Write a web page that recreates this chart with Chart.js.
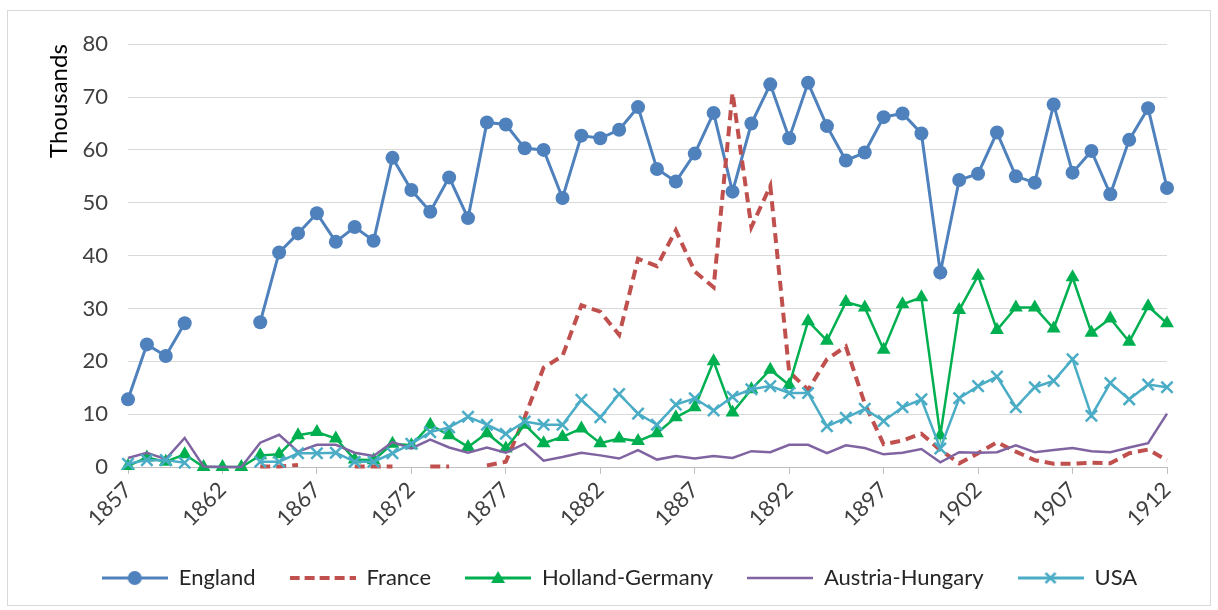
<!DOCTYPE html>
<html>
<head>
<meta charset="utf-8">
<script src="https://cdn.jsdelivr.net/npm/chart.js@4.4.1/dist/chart.umd.min.js"></script>
<style>
  body { margin: 0; background: #fff; }
  #box { position: absolute; left: 7px; top: 10px; width: 1202px; height: 594px; border: 1px solid #d9d9d9; }
  canvas { display: block; }
</style>
</head>
<body>
<div id="box"><canvas id="chart" width="1202" height="594"></canvas></div>
<script>
// years on the category axis
const years = [
  '1857', '1858', '1859', '1860', '1861', '1862', '1863', '1864', '1865', '1866',
  '1867', '1868', '1869', '1870', '1871', '1872', '1873', '1874', '1875', '1876',
  '1877', '1878', '1879', '1880', '1881', '1882', '1883', '1884', '1885', '1886',
  '1887', '1888', '1889', '1890', '1891', '1892', '1893', '1894', '1895', '1896',
  '1897', '1898', '1899', '1900', '1901', '1902', '1903', '1904', '1905', '1906',
  '1907', '1908', '1909', '1910', '1911', '1912'
];

// values in thousands, null = no data
const england = [
  12.8, 23.2, 21.0, 27.2, null, null, null, 27.4, 40.6, 44.2,
  48.0, 42.6, 45.4, 42.8, 58.5, 52.4, 48.3, 54.8, 47.1, 65.2,
  64.8, 60.3, 60.0, 50.9, 62.7, 62.2, 63.8, 68.1, 56.4, 54.0,
  59.3, 67.0, 52.1, 65.0, 72.4, 62.2, 72.7, 64.5, 58.0, 59.5,
  66.2, 66.9, 63.1, 36.8, 54.3, 55.5, 63.3, 55.0, 53.8, 68.6,
  55.7, 59.8, 51.6, 61.9, 67.9, 52.8
];
const france = [
  null, null, null, null, null, null, null, 0.1, 0.1, 0.4,
  null, null, 0.1, 0.1, 0.1, null, 0.1, 0.1, null, 0.3,
  1.0, 9.4, 18.8, 21.0, 30.6, 29.4, 25.0, 39.4, 38.0, 44.8,
  37.0, 34.0, 70.8, 45.4, 53.2, 18.0, 14.6, 20.4, 22.8, 12.0,
  4.3, 5.0, 6.3, 3.2, 0.7, 2.6, 4.7, 2.9, 1.3, 0.6,
  0.6, 0.8, 0.7, 2.6, 3.3, 1.3
];
const hollandGermany = [
  0.2, 1.8, 1.0, 2.4, 0, 0, 0, 2.2, 2.4, 6.0,
  6.6, 5.4, 1.4, 1.3, 4.4, 4.1, 8.0, 6.0, 3.8, 6.4,
  3.5, 8.0, 4.5, 5.7, 7.3, 4.5, 5.4, 4.9, 6.4, 9.4,
  11.3, 20.0, 10.3, 14.7, 18.4, 15.5, 27.6, 23.9, 31.2, 30.2,
  22.2, 30.8, 32.1, 6.0, 29.7, 36.2, 25.9, 30.2, 30.2, 26.2,
  35.9, 25.4, 28.1, 23.7, 30.4, 27.2
];
const austriaHungary = [
  1.7, 2.7, 1.5, 5.5, 0.1, 0, 0, 4.6, 6.1, 2.9,
  4.2, 4.2, 2.7, 2.1, 4.7, 3.5, 5.2, 3.7, 2.7, 3.7,
  2.7, 4.4, 1.2, 1.9, 2.7, 2.2, 1.6, 3.2, 1.4, 2.1,
  1.6, 2.1, 1.7, 3.0, 2.8, 4.2, 4.2, 2.6, 4.1, 3.6,
  2.4, 2.7, 3.4, 0.9, 2.8, 2.7, 2.8, 4.1, 2.8, 3.2,
  3.6, 3.0, 2.8, 3.7, 4.5, 10.1
];
const usa = [
  0.6, 1.3, 1.3, 0.8, null, null, null, 1.0, 1.0, 2.6,
  2.6, 2.7, 1.0, 1.0, 2.6, 4.4, 6.6, 7.5, 9.5, 8.0,
  6.3, 8.6, 8.0, 8.0, 12.7, 9.4, 13.8, 10.1, 8.0, 11.8,
  13.0, 10.7, 13.3, 14.7, 15.3, 14.0, 14.0, 7.7, 9.3, 11.0,
  8.7, 11.3, 12.8, 3.5, 13.0, 15.3, 17.1, 11.3, 15.1, 16.3,
  20.4, 9.7, 15.9, 12.8, 15.6, 15.1
];
const yTicks = [0, 10, 20, 30, 40, 50, 60, 70, 80];

const FONT = 'Lato';

// little line + marker pictures for the legend
function legendIcon(color, width, dash, marker) {
  const c = document.createElement('canvas');
  c.width = 66;
  c.height = 20;
  const g = c.getContext('2d');
  g.strokeStyle = color;
  g.fillStyle = color;
  g.lineWidth = width;
  g.setLineDash(dash);
  g.beginPath();
  g.moveTo(0, 10);
  g.lineTo(66, 10);
  g.stroke();
  g.setLineDash([]);
  if (marker === 'circle') {
    g.beginPath();
    g.arc(33, 10, 7, 0, Math.PI * 2);
    g.fill();
  } else if (marker === 'triangle') {
    g.beginPath();
    g.moveTo(33, 3);
    g.lineTo(40, 15);
    g.lineTo(26, 15);
    g.closePath();
    g.fill();
  } else if (marker === 'cross') {
    g.lineWidth = 2.5;
    g.beginPath();
    g.moveTo(28, 5); g.lineTo(38, 15);
    g.moveTo(38, 5); g.lineTo(28, 15);
    g.stroke();
  }
  return c;
}

const icons = [
  legendIcon('#4F81BD', 3, [], 'circle'),
  legendIcon('#C0504D', 4, [10, 5], null),
  legendIcon('#00B050', 3, [], 'triangle'),
  legendIcon('#8064A2', 2.5, [], null),
  legendIcon('#4BACC6', 3, [], 'cross')
];

// move the legend a bit to the right, like the original
const legendShift = {
  id: 'legendShift',
  afterLayout(chart) {
    chart.legend.left += 32;
    chart.legend.right += 32;
  }
};

new Chart(document.getElementById('chart'), {
  type: 'line',
  data: {
    labels: years,
    datasets: [
      {
        label: 'England', data: england, order: 5,
        borderColor: '#4F81BD', backgroundColor: '#4F81BD', borderWidth: 3,
        pointStyle: 'circle', pointRadius: 7, pointBorderWidth: 0
      },
      {
        label: 'France', data: france, order: 4,
        borderColor: '#C0504D', backgroundColor: '#C0504D', borderWidth: 4,
        borderDash: [10, 6], pointRadius: 0
      },
      {
        label: 'Holland-Germany', data: hollandGermany, order: 3,
        borderColor: '#00B050', backgroundColor: '#00B050', borderWidth: 2.5,
        pointStyle: 'triangle', pointRadius: 8, pointBorderWidth: 0
      },
      {
        label: 'Austria-Hungary', data: austriaHungary, order: 2,
        borderColor: '#8064A2', backgroundColor: '#8064A2', borderWidth: 2.5,
        pointRadius: 0
      },
      {
        label: 'USA', data: usa, order: 1,
        borderColor: '#4BACC6', backgroundColor: '#4BACC6', borderWidth: 2.5,
        pointStyle: 'crossRot', pointRadius: 8, pointBorderWidth: 2.5
      }
    ]
  },
  options: {
    responsive: false,
    animation: false,
    events: [],
    spanGaps: false,
    clip: false,
    layout: { padding: { left: 0, right: 43, top: 28, bottom: 6 } },
    elements: { line: { tension: 0 } },
    plugins: {
      tooltip: { enabled: false },
      legend: {
        position: 'bottom',
        labels: {
          font: { family: FONT, size: 22 },
          color: '#262626',
          usePointStyle: true,
          pointStyleWidth: 66,
          padding: 34,
          generateLabels(chart) {
            return chart.data.datasets.map((ds, i) => ({
              text: ds.label,
              pointStyle: icons[i],
              fillStyle: ds.borderColor,
              strokeStyle: ds.borderColor,
              lineWidth: 0,
              hidden: false,
              datasetIndex: i,
              fontColor: '#262626'
            }));
          }
        }
      }
    },
    scales: {
      x: {
        offset: false,
        grid: {
          drawOnChartArea: false,
          drawTicks: true,
          tickLength: 7,
          tickColor: ctx => (ctx.index % 5 === 0 ? '#bfbfbf' : 'rgba(0,0,0,0)')
        },
        border: { color: '#bfbfbf', width: 1 },
        ticks: {
          autoSkip: false,
          minRotation: 45,
          maxRotation: 45,
          padding: 3,
          font: { family: FONT, size: 22 },
          color: '#404040',
          callback: (value, index) => (index % 5 === 0 ? years[index] : '')
        },
        afterFit(scale) { scale.height = 66; }
      },
      y: {
        min: 0,
        max: 80,
        afterBuildTicks(scale) { scale.ticks = yTicks.map(v => ({ value: v })); },
        grid: { color: '#d9d9d9', lineWidth: 1, drawTicks: false },
        border: { display: false },
        ticks: {
          padding: 20,
          font: { family: FONT, size: 22 },
          color: '#404040'
        },
        title: {
          display: true,
          text: 'Thousands',
          align: 'end',
          color: '#000',
          font: { family: FONT, size: 24 },
          padding: { top: 37, bottom: 0 }
        },
        afterFit(scale) { scale.width = 120; }
      }
    }
  },
  plugins: [legendShift]
});
</script>
</body>
</html>
